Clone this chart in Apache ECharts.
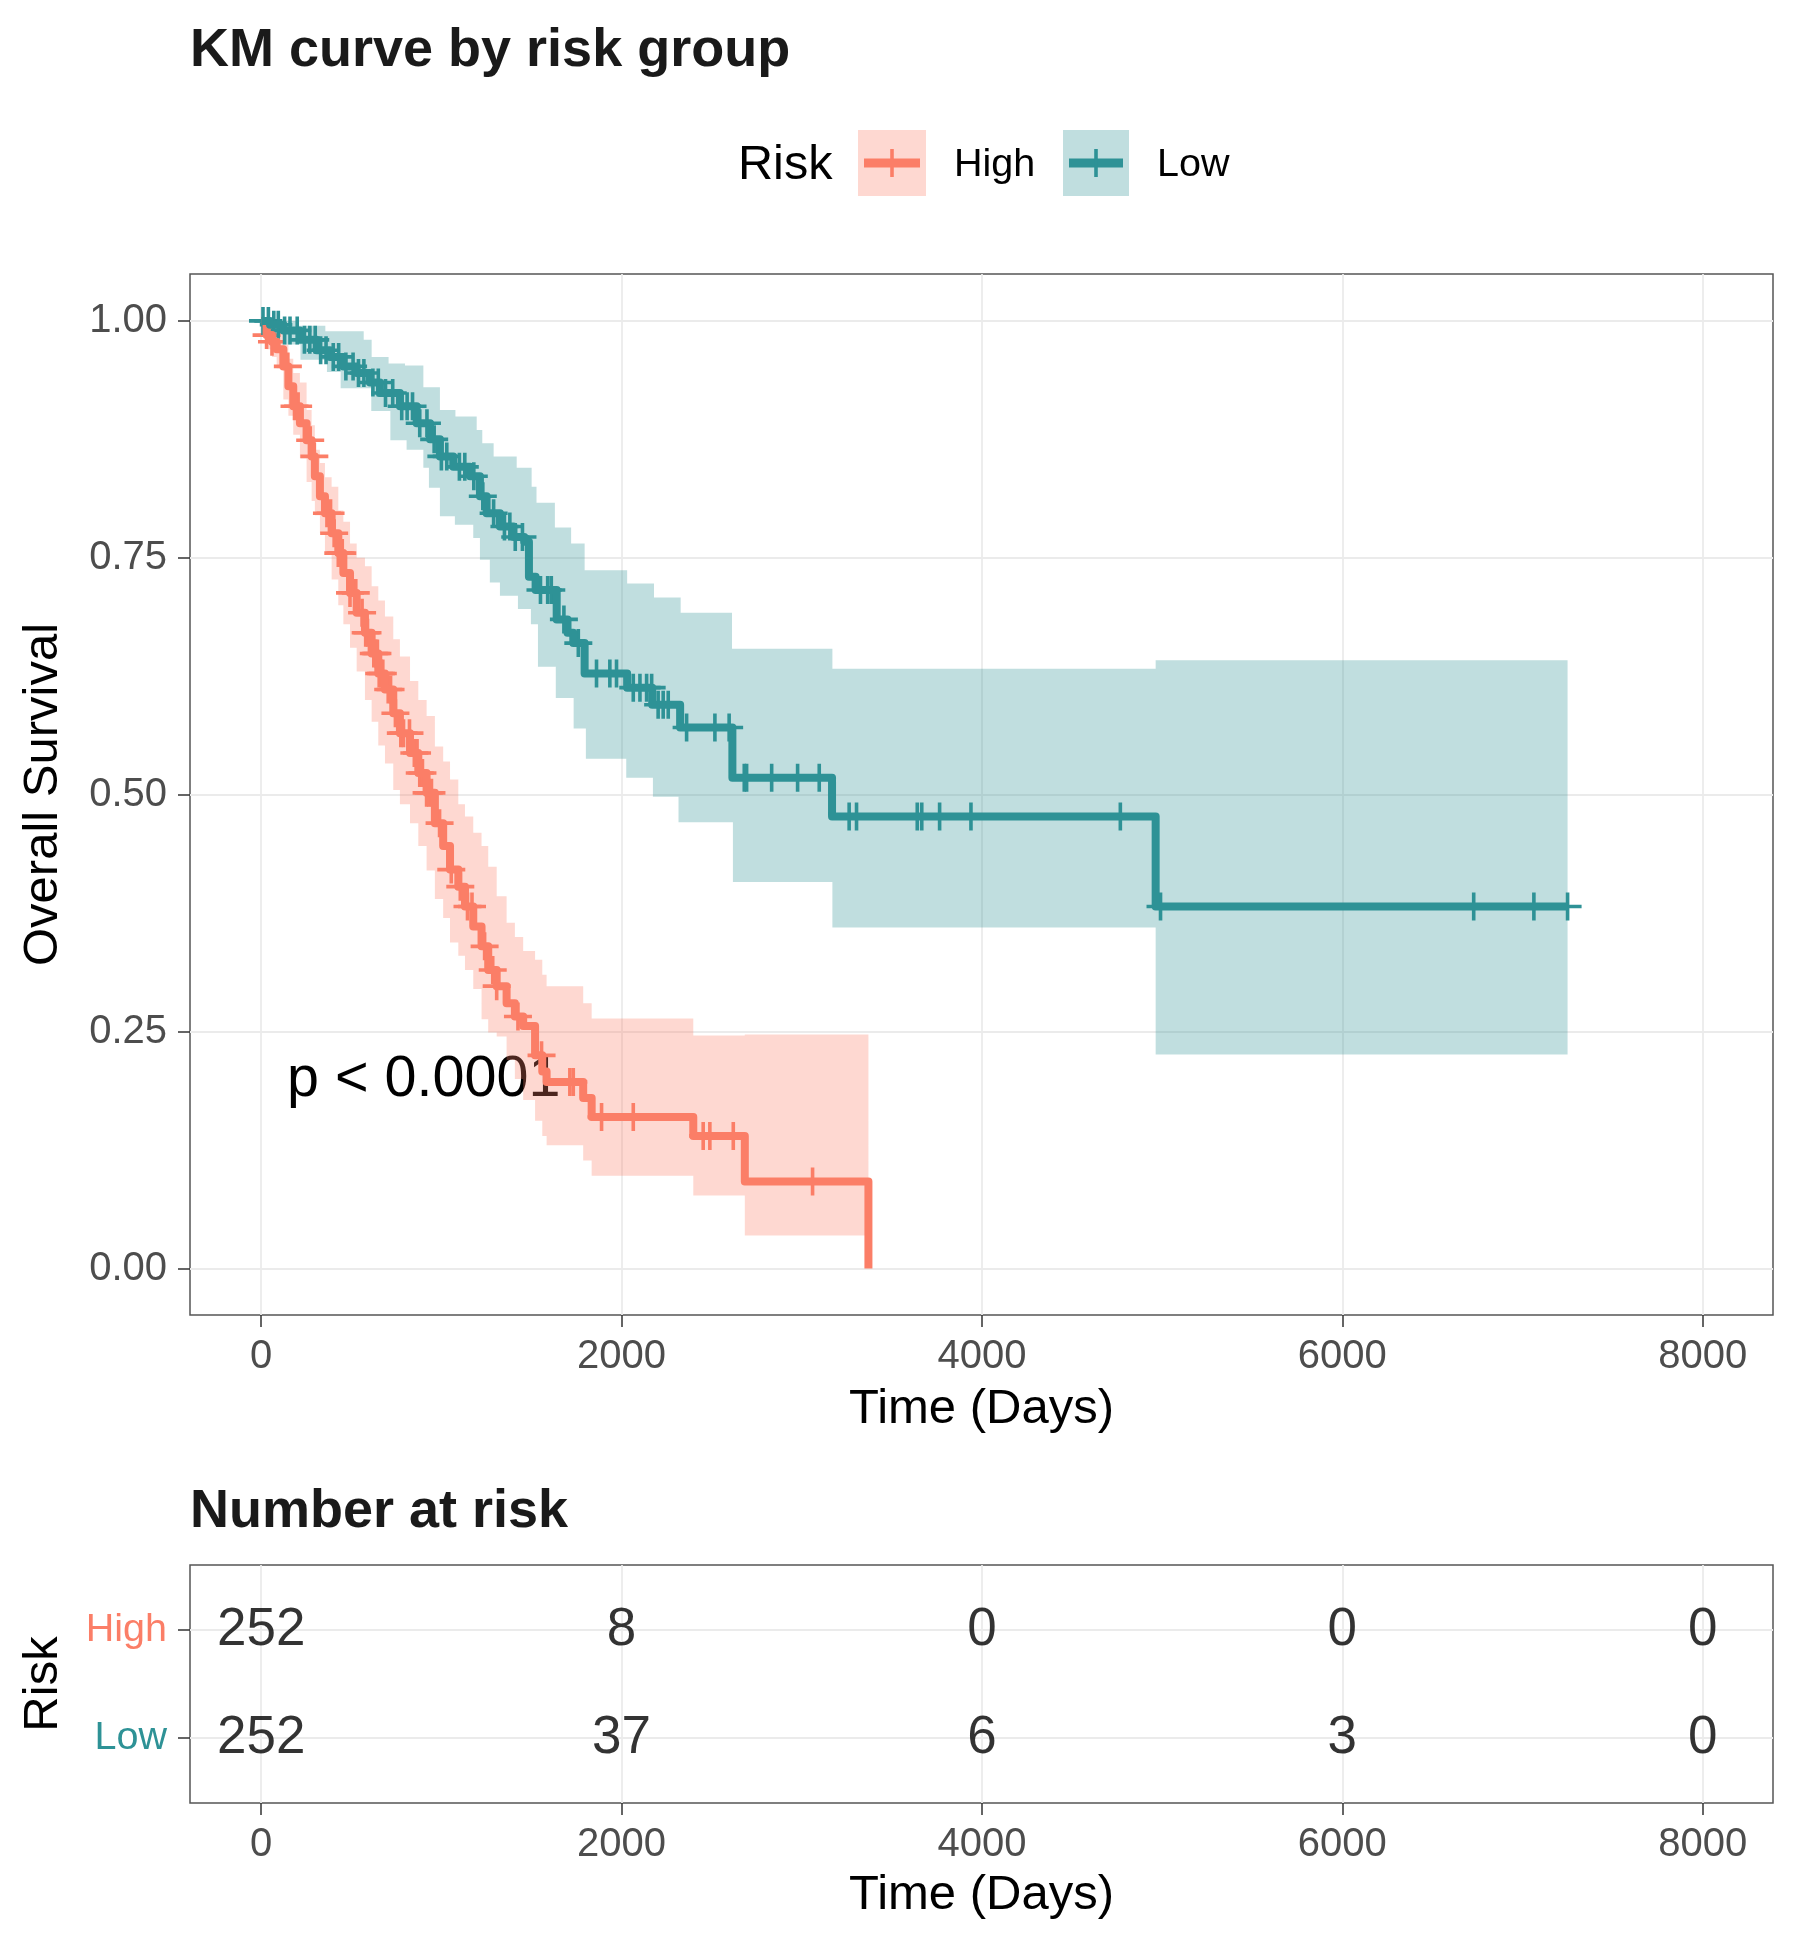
<!DOCTYPE html>
<html>
<head>
<meta charset="utf-8">
<title>KM curve by risk group</title>
<script src="https://cdn.jsdelivr.net/npm/echarts@6/dist/echarts.min.js"></script>
<style>
html,body{margin:0;padding:0;background:#fff}
#chart{width:1800px;height:1950px}
</style>
</head>
<body>
<div id="chart"></div>
<script>
// values

// High risk: KM steps (time in days, survival after the step)
var highTime = [0, 30, 60, 86, 123, 151, 178, 215, 252, 280, 298, 326, 354, 391, 428, 456, 493, 530, 576, 613, 650, 687, 733, 770, 826, 872, 918, 964, 1010, 1048, 1094, 1131, 1177, 1223, 1260, 1307, 1362, 1408, 1454, 1520, 1560, 1584, 1787, 1834, 2398, 2684, 3370];
var highSurv = [1.0, 0.985, 0.978, 0.970, 0.952, 0.931, 0.910, 0.892, 0.874, 0.857, 0.836, 0.815, 0.797, 0.776, 0.755, 0.734, 0.713, 0.692, 0.671, 0.649, 0.628, 0.611, 0.586, 0.565, 0.544, 0.523, 0.502, 0.470, 0.446, 0.421, 0.403, 0.382, 0.361, 0.340, 0.315, 0.298, 0.280, 0.266, 0.256, 0.225, 0.208, 0.197, 0.180, 0.160, 0.140, 0.092, 0];
var highUpper = [1.0, 1.0, 0.995, 0.99, 0.975, 0.960, 0.945, 0.935, 0.906, 0.890, 0.864, 0.850, 0.835, 0.825, 0.800, 0.788, 0.765, 0.750, 0.741, 0.720, 0.705, 0.688, 0.664, 0.646, 0.620, 0.600, 0.583, 0.551, 0.535, 0.516, 0.490, 0.477, 0.460, 0.446, 0.424, 0.393, 0.365, 0.350, 0.335, 0.326, 0.310, 0.298, 0.280, 0.264, 0.246, 0.247, 0.247];
var highLower = [1.0, 0.97, 0.962, 0.95, 0.917, 0.90, 0.88, 0.855, 0.83, 0.81, 0.795, 0.776, 0.755, 0.727, 0.70, 0.68, 0.655, 0.63, 0.60, 0.577, 0.552, 0.533, 0.505, 0.49, 0.47, 0.446, 0.42, 0.39, 0.37, 0.344, 0.33, 0.315, 0.295, 0.263, 0.249, 0.245, 0.22, 0.20, 0.178, 0.156, 0.14, 0.13, 0.114, 0.098, 0.077, 0.035, 0.035];
var highCensor = [30, 60, 148, 185, 205, 272, 295, 365, 385, 405, 428, 440, 450, 493, 525, 560, 580, 590, 625, 636, 645, 655, 665, 675, 705, 718, 745, 775, 790, 823, 850, 865, 880, 895, 918, 930, 945, 990, 1055, 1105, 1145, 1170, 1240, 1285, 1307, 1425, 1556, 1713, 1732, 1889, 2065, 2453, 2490, 2620, 3060];

// Low risk
var lowTime = [0, 49, 123, 215, 308, 382, 456, 530, 604, 659, 770, 863, 937, 992, 1066, 1159, 1214, 1251, 1325, 1400, 1460, 1486, 1523, 1640, 1700, 1732, 1795, 2031, 2170, 2325, 2615, 3168, 4964, 7250];
var lowSurv = [1.0, 0.996, 0.990, 0.980, 0.969, 0.962, 0.952, 0.945, 0.935, 0.924, 0.910, 0.892, 0.875, 0.857, 0.846, 0.836, 0.815, 0.797, 0.783, 0.772, 0.767, 0.730, 0.716, 0.685, 0.671, 0.660, 0.628, 0.613, 0.595, 0.571, 0.518, 0.477, 0.382, 0.382];
var lowUpTime = [0, 200, 356, 569, 613, 707, 798, 900, 992, 1078, 1196, 1227, 1290, 1418, 1501, 1528, 1630, 1720, 1795, 2031, 2180, 2328, 2613, 3170, 4964, 7250];
var lowUpper = [1.0, 0.995, 0.989, 0.980, 0.962, 0.955, 0.953, 0.930, 0.906, 0.899, 0.885, 0.871, 0.857, 0.845, 0.825, 0.808, 0.782, 0.765, 0.737, 0.723, 0.708, 0.692, 0.654, 0.633, 0.642, 0.642];
var lowLoTime = [0, 120, 218, 365, 441, 611, 717, 807, 900, 931, 992, 1075, 1177, 1214, 1269, 1325, 1425, 1497, 1536, 1635, 1734, 1802, 2026, 2174, 2316, 2618, 3170, 4964, 7250];
var lowLower = [1.0, 0.975, 0.959, 0.946, 0.929, 0.905, 0.874, 0.864, 0.845, 0.824, 0.794, 0.785, 0.771, 0.748, 0.724, 0.710, 0.696, 0.680, 0.635, 0.602, 0.570, 0.538, 0.518, 0.498, 0.471, 0.408, 0.360, 0.226, 0.226];
var lowCensor = [10, 40, 70, 95, 130, 160, 200, 240, 270, 300, 330, 360, 400, 430, 470, 510, 540, 570, 620, 650, 690, 730, 780, 810, 840, 880, 920, 960, 1000, 1030, 1100, 1130, 1180, 1230, 1290, 1350, 1380, 1410, 1450, 1550, 1590, 1610, 1680, 1760, 1861, 1935, 1972, 2065, 2102, 2139, 2167, 2203, 2231, 2259, 2361, 2518, 2597, 2681, 2694, 2833, 2977, 3097, 3263, 3304, 3641, 3666, 3765, 3939, 4768, 4991, 6729, 7063, 7250];

// axes and risk table
var tickTimes = [0, 2000, 4000, 6000, 8000];
var survTicks = [0, 0.25, 0.5, 0.75, 1];
var riskGroups = ['Low', 'High'];   // table rows 1 and 2
var riskHigh = [252, 8, 0, 0, 0];
var riskLow = [252, 37, 6, 3, 0];

var HIGH_COL = '#FB7E67';
var LOW_COL = '#2E9296';
var FONT = "'Liberation Sans', Arial, Helvetica, sans-serif";
var PLUS = 'path://M-1.8,-14L1.8,-14L1.8,-1.8L14,-1.8L14,1.8L1.8,1.8L1.8,14L-1.8,14L-1.8,1.8L-14,1.8L-14,-1.8L-1.8,-1.8Z';

function pairs(t, v) {
  return t.map(function (x, i) { return [x, v[i]]; });
}
// survival value of the step curve at time x
function survAt(t, v, x) {
  var s = v[0];
  for (var i = 0; i < t.length; i++) {
    if (t[i] <= x) s = v[i];
  }
  return s;
}
function censorPts(ct, t, v) {
  return ct.map(function (x) { return [x, survAt(t, v, x)]; });
}
function stepCoords(api, t, v) {
  var pts = [];
  for (var i = 0; i < t.length; i++) {
    pts.push(api.coord([t[i], v[i]]));
    if (i < t.length - 1) pts.push(api.coord([t[i + 1], v[i]]));
  }
  return pts;
}
function bandSeries(name, color, upT, upV, loT, loV) {
  return {
    type: 'custom', name: name + ' CI', xAxisIndex: 0, yAxisIndex: 0, silent: true,
    data: [[0, 0]],
    renderItem: function (params, api) {
      var pts = stepCoords(api, upT, upV).concat(stepCoords(api, loT, loV).reverse());
      return { type: 'polygon', shape: { points: pts }, style: { fill: color, opacity: 0.3 } };
    }
  };
}
function xAxisCfg(gridIndex, nameGap) {
  return {
    type: 'value', gridIndex: gridIndex, min: -395, max: 8390,
    name: 'Time (Days)', nameLocation: 'middle', nameGap: nameGap, nameMoveOverlap: false,
    nameTextStyle: { fontFamily: FONT, fontSize: 49, color: '#000', lineHeight: 49 },
    axisLine: { show: false, onZero: false },
    axisTick: { show: true, length: 12, customValues: tickTimes, lineStyle: { color: '#333', width: 1.5 } },
    axisLabel: { customValues: tickTimes, margin: 22, fontFamily: FONT, fontSize: 40, color: '#4D4D4D', lineHeight: 40,
      formatter: function (v) { return String(v); } },
    splitLine: { show: true, lineStyle: { color: '#EBEBEB', width: 1.8 } }
  };
}
function riskSeries(counts, row) {
  return {
    type: 'scatter', xAxisIndex: 1, yAxisIndex: 1, silent: true,
    symbolSize: 1, itemStyle: { color: 'rgba(0,0,0,0)' },
    data: tickTimes.map(function (t, i) { return [t, row, counts[i]]; }),
    label: {
      show: true, position: 'inside', fontFamily: FONT, fontSize: 53, color: '#000',
      textBorderWidth: 0, textBorderColor: 'transparent',
      formatter: function (p) { return String(p.value[2]); }
    }
  };
}

var chart = echarts.init(document.getElementById('chart'), null, { renderer: 'canvas' });

var option = {
  animation: false,
  backgroundColor: '#fff',
  title: [
    { text: 'KM curve by risk group', left: 190, top: 24, padding: 0,
      textStyle: { fontFamily: FONT, fontSize: 54, fontWeight: 'bold', color: '#1A1A1A', lineHeight: 54 } },
    { text: 'Number at risk', left: 190, top: 1485, padding: 0,
      textStyle: { fontFamily: FONT, fontSize: 54, fontWeight: 'bold', color: '#1A1A1A', lineHeight: 54 } }
  ],
  grid: [
    { left: 190, top: 274, width: 1583, height: 1041, show: true, borderColor: '#555', borderWidth: 1.5, backgroundColor: '#fff', outerBoundsMode: 'none' },
    { left: 190, top: 1565, width: 1583, height: 238, show: true, borderColor: '#555', borderWidth: 1.5, backgroundColor: '#fff', outerBoundsMode: 'none' }
  ],
  xAxis: [xAxisCfg(0, 70), xAxisCfg(1, 68)],
  yAxis: [
    {
      type: 'value', gridIndex: 0, min: -0.049, max: 1.0495,
      name: 'Overall Survival', nameLocation: 'middle', nameRotate: 90, nameGap: 122, nameMoveOverlap: false,
      nameTextStyle: { fontFamily: FONT, fontSize: 49, color: '#000', lineHeight: 49 },
      axisLine: { show: false, onZero: false },
      axisTick: { show: true, length: 12, customValues: survTicks, lineStyle: { color: '#333', width: 1.5 } },
      axisLabel: { customValues: survTicks, margin: 23, fontFamily: FONT, fontSize: 40, color: '#4D4D4D',
        formatter: function (v) { return v.toFixed(2); } },
      splitLine: { show: true, lineStyle: { color: '#EBEBEB', width: 1.8 } }
    },
    {
      type: 'value', gridIndex: 1, min: 0.4, max: 2.6,
      name: 'Risk', nameLocation: 'middle', nameRotate: 90, nameGap: 122, nameMoveOverlap: false,
      nameTextStyle: { fontFamily: FONT, fontSize: 49, color: '#000', lineHeight: 49 },
      axisLine: { show: false, onZero: false },
      axisTick: { show: true, length: 12, customValues: [1, 2], lineStyle: { color: '#333', width: 1.5 } },
      axisLabel: {
        customValues: [1, 2], margin: 23,
        formatter: function (v) { return (v === 2 ? '{h|' : '{l|') + riskGroups[v - 1] + '}'; },
        rich: {
          h: { fontFamily: FONT, fontSize: 39.5, color: HIGH_COL },
          l: { fontFamily: FONT, fontSize: 39.5, color: LOW_COL }
        }
      },
      splitLine: { show: true, lineStyle: { color: '#EBEBEB', width: 1.8 } }
    }
  ],
  series: [
    bandSeries('High', HIGH_COL, highTime, highUpper, highTime, highLower),
    bandSeries('Low', LOW_COL, lowUpTime, lowUpper, lowLoTime, lowLower),
    {
      type: 'line', name: 'High', xAxisIndex: 0, yAxisIndex: 0, step: 'end', showSymbol: false, silent: true,
      data: pairs(highTime, highSurv),
      lineStyle: { color: HIGH_COL, width: 8, join: 'round', cap: 'butt' }
    },
    {
      type: 'line', name: 'Low', xAxisIndex: 0, yAxisIndex: 0, step: 'end', showSymbol: false, silent: true,
      data: pairs(lowTime, lowSurv),
      lineStyle: { color: LOW_COL, width: 8, join: 'round', cap: 'butt' }
    },
    {
      type: 'scatter', name: 'High', xAxisIndex: 0, yAxisIndex: 0, silent: true,
      symbol: PLUS, symbolSize: 28, itemStyle: { color: HIGH_COL, opacity: 1 },
      data: censorPts(highCensor, highTime, highSurv)
    },
    {
      type: 'scatter', name: 'Low', xAxisIndex: 0, yAxisIndex: 0, silent: true,
      symbol: PLUS, symbolSize: 28, itemStyle: { color: LOW_COL, opacity: 1 },
      data: censorPts(lowCensor, lowTime, lowSurv)
    },
    riskSeries(riskHigh, 2),
    riskSeries(riskLow, 1)
  ],
  graphic: [
    { type: 'text', style: { text: 'Risk', x: 738, y: 166, font: '48.6px ' + FONT, fill: '#000', textAlign: 'left', textVerticalAlign: 'middle' } },
    { type: 'rect', shape: { x: 858, y: 130, width: 68, height: 66 }, style: { fill: HIGH_COL, opacity: 0.3 } },
    { type: 'line', shape: { x1: 864, y1: 163, x2: 920, y2: 163 }, style: { stroke: HIGH_COL, lineWidth: 9 } },
    { type: 'line', shape: { x1: 892, y1: 149, x2: 892, y2: 177 }, style: { stroke: HIGH_COL, lineWidth: 3.6 } },
    { type: 'text', style: { text: 'High', x: 954, y: 165, font: '39.5px ' + FONT, fill: '#000', textAlign: 'left', textVerticalAlign: 'middle' } },
    { type: 'rect', shape: { x: 1063, y: 130, width: 66, height: 66 }, style: { fill: LOW_COL, opacity: 0.3 } },
    { type: 'line', shape: { x1: 1069, y1: 163, x2: 1123, y2: 163 }, style: { stroke: LOW_COL, lineWidth: 9 } },
    { type: 'line', shape: { x1: 1096, y1: 149, x2: 1096, y2: 177 }, style: { stroke: LOW_COL, lineWidth: 3.6 } },
    { type: 'text', style: { text: 'Low', x: 1157, y: 165, font: '39.5px ' + FONT, fill: '#000', textAlign: 'left', textVerticalAlign: 'middle' } },
    { type: 'text', style: { text: 'p < 0.0001', x: 287, y: 1080, font: '57.5px ' + FONT, fill: '#000', textAlign: 'left', textVerticalAlign: 'middle' } }
  ]
};

chart.setOption(option);
window.addEventListener('resize', function () { chart.resize(); });
</script>
</body>
</html>
